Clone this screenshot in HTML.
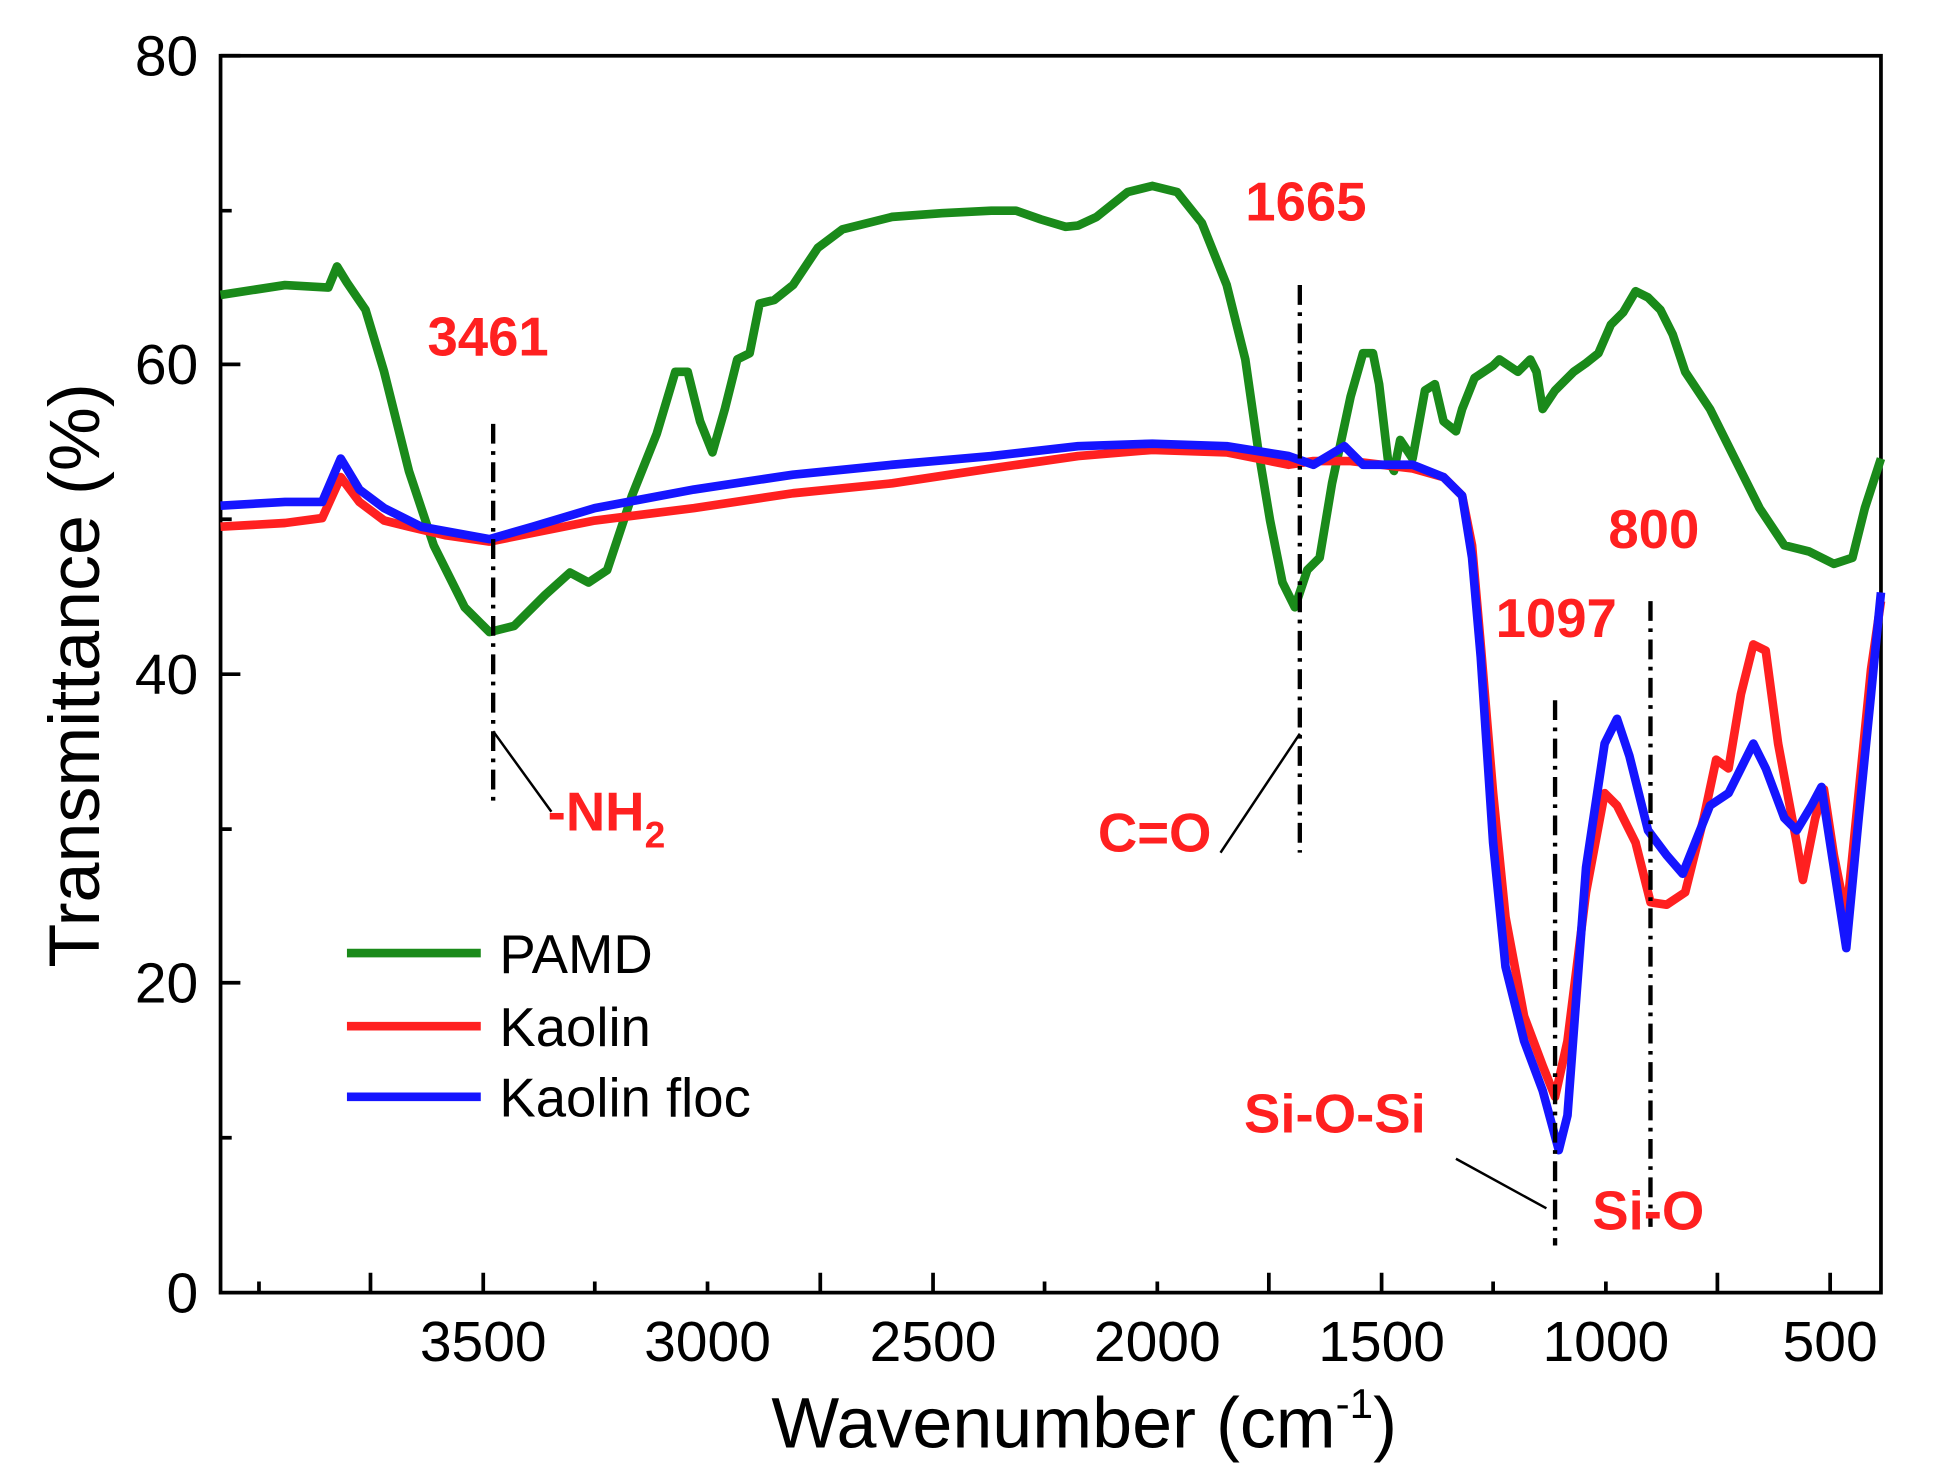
<!DOCTYPE html>
<html><head><style>html,body{margin:0;padding:0;background:#fff}svg{display:block}</style></head>
<body>
<svg width="1933" height="1481" viewBox="0 0 1560 1195" preserveAspectRatio="none" xmlns="http://www.w3.org/2000/svg" font-family="Liberation Sans, Arial, sans-serif">
<rect width="1560" height="1195" fill="#fff"/>
<g stroke="#000" stroke-width="3" fill="none">
<rect x="178" y="45" width="1340" height="998"/>
<path d="M390,1043v-16M571,1043v-9M753,1043v-16M934,1043v-9M1115,1043v-16M1296,1043v-9M1477,1043v-16M209,1043v-9M299,1043v-16M480,1043v-9M662,1043v-16M843,1043v-9M1024,1043v-16M1205,1043v-9M1386,1043v-16"/>
<path d="M178,45h16M178,170h9M178,294h16M178,419h9M178,544h16M178,669h9M178,793h16M178,918h9"/>
</g>
<g font-size="46" text-anchor="end" fill="#000">
<text x="160" y="61">80</text><text x="160" y="310">60</text><text x="160" y="560">40</text><text x="160" y="809">20</text><text x="160" y="1059">0</text>
</g>
<g font-size="46" text-anchor="middle">
<text x="390" y="1098">3500</text><text x="571" y="1098">3000</text><text x="753" y="1098">2500</text><text x="934" y="1098">2000</text><text x="1115" y="1098">1500</text><text x="1296" y="1098">1000</text><text x="1477" y="1098">500</text>
</g>
<text x="875" y="1168" font-size="58" text-anchor="middle">Wavenumber (cm<tspan font-size="34" dy="-24">-1</tspan><tspan dy="24">)</tspan></text>
<text transform="translate(80,545) rotate(-90)" font-size="58" text-anchor="middle">Transmittance (%)</text>
<g fill="none" stroke-width="7" stroke-linejoin="round">
<polyline stroke="#1a8a1a" points="178,238 230,230 265,232 272,215 280,228 295,250 310,300 330,380 350,440 375,490 395,510 415,505 440,480 460,462 475,470 490,460 510,400 530,350 545,300 555,300 565,340 575,365 585,330 595,290 605,285 613,245 625,242 640,230 660,200 680,185 720,175 760,172 800,170 820,170 840,177 860,183 870,182 885,175 910,155 930,150 950,155 970,180 990,230 1005,290 1015,360 1025,420 1035,470 1045,490 1055,460 1065,450 1075,390 1090,320 1100,285 1108,285 1113,310 1120,370 1125,380 1130,355 1140,370 1150,315 1158,310 1165,340 1175,348 1180,330 1190,305 1205,295 1210,290 1225,300 1235,290 1240,300 1245,330 1255,315 1270,300 1280,293 1290,285 1300,262 1310,252 1320,235 1330,240 1340,250 1350,270 1360,300 1380,330 1400,370 1420,410 1440,440 1460,445 1480,455 1495,450 1505,410 1518,370"/>
<polyline stroke="#ff2020" points="178,425 230,422 260,418 275,385 290,405 310,420 330,425 360,432 395,437 430,430 480,420 560,410 640,398 720,390 800,378 870,368 930,363 990,365 1040,375 1060,372 1090,372 1140,378 1165,385 1180,400 1188,440 1195,520 1205,640 1215,740 1230,820 1245,860 1255,885 1265,840 1280,720 1295,640 1305,650 1320,680 1332,728 1345,730 1360,720 1375,660 1385,613 1395,620 1405,560 1415,520 1425,525 1435,600 1450,680 1455,710 1465,660 1472,637 1480,690 1490,740 1500,640 1510,540 1518,485"/>
<polyline stroke="#1515ff" points="178,408 230,405 260,405 275,370 290,395 310,410 340,425 395,435 430,425 480,410 560,395 640,383 720,375 800,368 870,360 930,358 990,360 1040,368 1060,375 1085,360 1100,375 1140,375 1165,385 1180,400 1188,450 1195,530 1205,680 1215,780 1230,840 1245,880 1258,928 1265,900 1280,700 1295,600 1305,580 1315,610 1330,670 1345,690 1358,705 1370,675 1380,650 1395,640 1405,620 1415,600 1425,620 1440,660 1450,670 1462,650 1470,635 1480,700 1490,765 1500,660 1510,560 1518,478"/>
</g>
<g stroke="#000" stroke-width="3.5" fill="none" stroke-dasharray="16,6,3,6">
<path d="M398,342V648M1049,230V688M1255,565V1005M1332,485V990"/>
</g>
<g stroke="#000" stroke-width="2" fill="none">
<path d="M398,590L445,655M1049,592L985,688M1175,935L1248,975"/>
</g>
<g fill="#ff2020" font-weight="bold" font-size="44">
<text x="345" y="287">3461</text><text x="1005" y="178">1665</text><text x="1298" y="442">800</text><text x="1207" y="514">1097</text>
<text x="1004" y="914">Si-O-Si</text><text x="1285" y="992">Si-O</text><text x="886" y="687">C=O</text>
<text x="442" y="670">-NH<tspan font-size="30" dy="14">2</tspan></text>
</g>
<g stroke-width="7">
<line x1="280" y1="769" x2="388" y2="769" stroke="#1a8a1a"/>
<line x1="280" y1="828" x2="388" y2="828" stroke="#ff2020"/>
<line x1="280" y1="885" x2="388" y2="885" stroke="#1515ff"/>
</g>
<g font-size="44"><text x="403" y="785">PAMD</text><text x="403" y="844">Kaolin</text><text x="403" y="901">Kaolin floc</text></g>
</svg>
</body></html>
